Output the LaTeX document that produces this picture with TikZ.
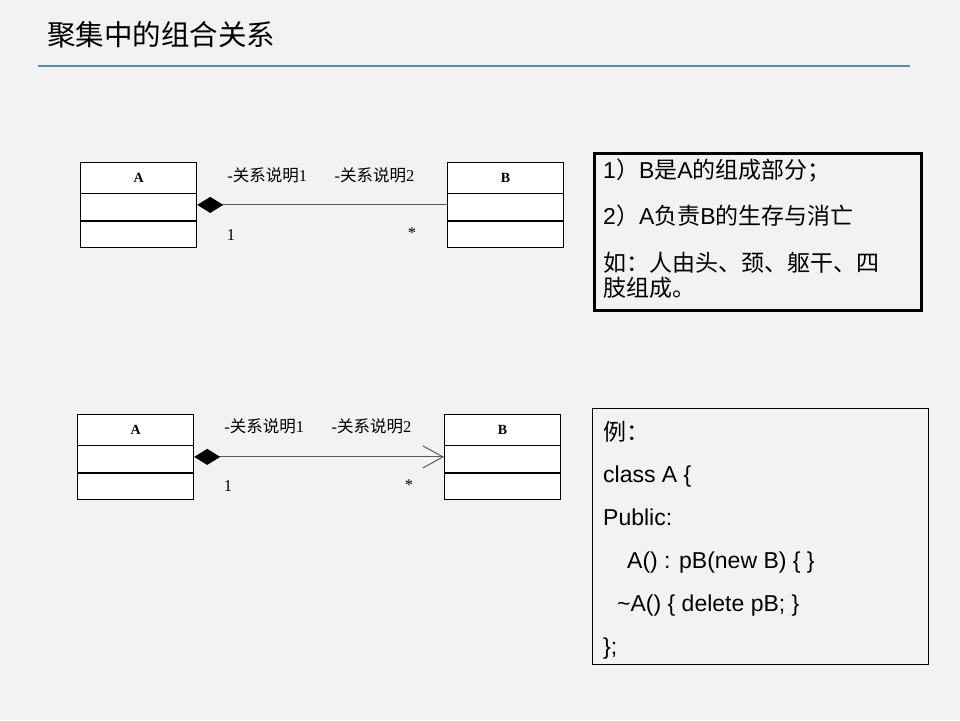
\documentclass[tikz,border=0pt]{standalone}
\usepackage{fontspec}
\setmainfont{Liberation Sans}
\newfontfamily\cjk{Noto Sans CJK SC}
\newfontfamily\umlserif{Liberation Serif}
\usetikzlibrary{shapes.multipart, arrows.meta, positioning}
\definecolor{slidebg}{RGB}{242,242,242}
\definecolor{ruleblue}{RGB}{84,141,196}
\definecolor{linkgray}{RGB}{90,90,90}

\begin{document}
\begin{tikzpicture}[
        x=1pt, y=-1pt,
        classbox/.style={
            rectangle split,
            rectangle split parts=3,
            draw,
            line width=1.2pt,
            fill=white,
            minimum width=116pt,
            inner sep=0pt,
            anchor=north west,
            font=\umlserif\bfseries\fontsize{14}{14}\selectfont
        },
        linklabel/.style={inner sep=0pt, font=\cjk\fontsize{16.5}{16.5}\selectfont},
        composition/.style={draw=linkgray, line width=1pt,
            {Diamond[length=26pt, width=16pt, black]}-},
        navcomposition/.style={draw=linkgray, line width=1pt,
            {Diamond[length=26pt, width=16pt, black]}-{Straight Barb[length=20pt, width=22pt]}},
        notetext/.style={inner sep=0pt, align=left, anchor=base west}
    ]
        % slide
        \fill [slidebg] (0,0) rectangle (960,720);
        \useasboundingbox (0,0) rectangle (960,720);
        \node [anchor=west, inner sep=0pt, font=\cjk\fontsize{28.5}{28.5}\selectfont] (title) at (47,35) {聚集中的组合关系};
        \coordinate (ruleL) at (38,66);
        \coordinate (ruleR) at (910,66);
        \draw [ruleblue, line width=1.2pt] (ruleL) -- (ruleR);

        % nodes
        \node [classbox] (A1) at (80,162) {\rule[-11pt]{0pt}{30pt}A\nodepart{two}\rule{0pt}{26pt}\nodepart{three}\rule{0pt}{25pt}};
        \node [classbox] (B1) at (447,162) {\rule[-11pt]{0pt}{30pt}B\nodepart{two}\rule{0pt}{26pt}\nodepart{three}\rule{0pt}{25pt}};
        \node [classbox] (A2) at (77,414) {\rule[-11pt]{0pt}{30pt}A\nodepart{two}\rule{0pt}{26pt}\nodepart{three}\rule{0pt}{25pt}};
        \node [classbox] (B2) at (444,414) {\rule[-11pt]{0pt}{30pt}B\nodepart{two}\rule{0pt}{26pt}\nodepart{three}\rule{0pt}{25pt}};

        % paths
        \path [composition] (A1.east) --
            node [linklabel, pos=.28, yshift=30pt] {{\umlserif -}关系说明{\umlserif 1}}
            node [linklabel, pos=.71, yshift=30pt] {{\umlserif -}关系说明{\umlserif 2}}
            node [linklabel, pos=.135, yshift=-30pt] {\umlserif 1}
            node [linklabel, pos=.86, yshift=-28pt] {\umlserif *}
            (B1.west);
        \path [navcomposition] (A2.east) --
            node [linklabel, pos=.28, yshift=31pt] {{\umlserif -}关系说明{\umlserif 1}}
            node [linklabel, pos=.71, yshift=31pt] {{\umlserif -}关系说明{\umlserif 2}}
            node [linklabel, pos=.135, yshift=-29pt] {\umlserif 1}
            node [linklabel, pos=.86, yshift=-28pt] {\umlserif *}
            (B2.west);

        % notes
        \node [draw, line width=3pt, minimum width=327pt, minimum height=157pt, anchor=north west] (rules) at (593,152) {};
        \node [notetext, font=\fontsize{23}{25}\selectfont] (rulestext) at (603,296)
            {1{\cjk ）}B{\cjk 是}A{\cjk 的组成部分；}\\[21.5pt]
             2{\cjk ）}A{\cjk 负责}B{\cjk 的生存与消亡}\\[21.5pt]
             {\cjk 如：人由头、颈、躯干、四}\\
             {\cjk 肢组成。}};
        \node [draw, line width=1pt, minimum width=336pt, minimum height=256pt, anchor=north west] (example) at (592,408) {};
        \node [notetext, font=\fontsize{23}{42.8}\selectfont] (exampletext) at (603,654)
            {{\cjk 例：}\\
             class A \{\\
             Public:\\
             \hspace*{24pt}A() : pB(new B) \{ \}\\
             \hspace*{14pt}\textasciitilde A() \{ delete pB; \}\\
             \};};
\end{tikzpicture}
\end{document}
